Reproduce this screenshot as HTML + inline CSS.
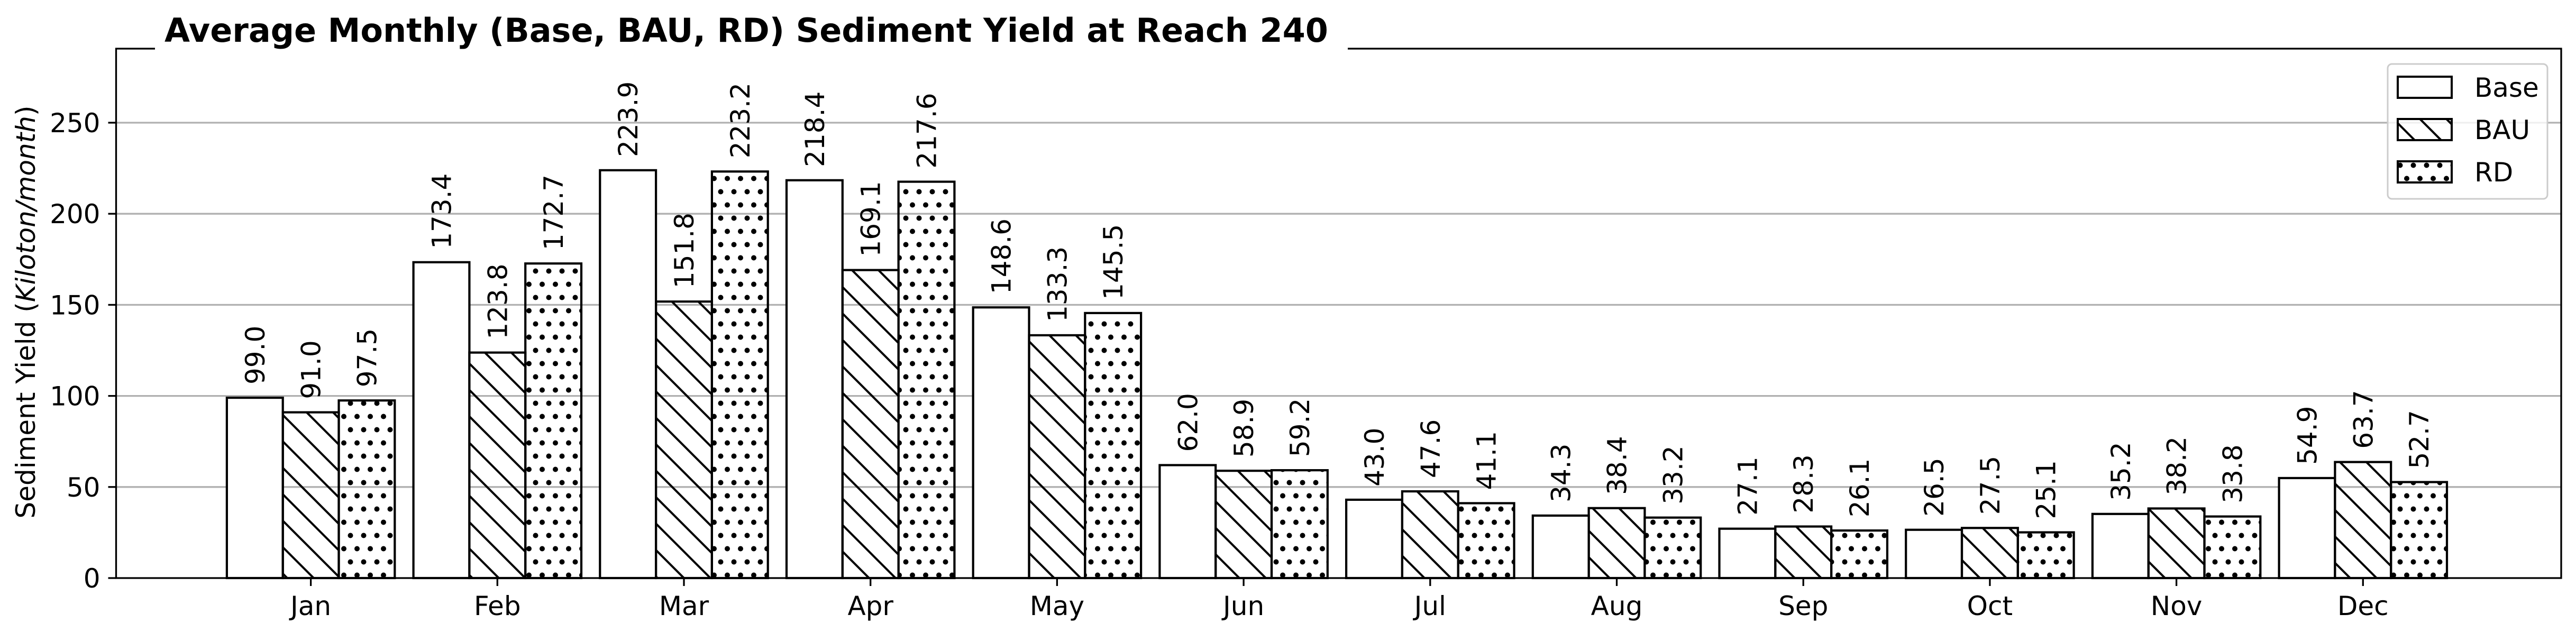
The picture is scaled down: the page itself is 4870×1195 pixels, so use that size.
<!DOCTYPE html>
<html><head><meta charset="utf-8"><style>
html,body{margin:0;padding:0;background:#fff;}
svg{display:block;font-family:"DejaVu Sans","Liberation Sans",sans-serif;}
</style></head><body>
<svg id="chart" width="4870" height="1195" viewBox="0 0 4870 1195" xmlns="http://www.w3.org/2000/svg">
<defs>
<pattern id="hatchBAU" patternUnits="userSpaceOnUse" width="50" height="50">
<path d="M-10,-10 L60,60 M-10,40 L10,60 M40,-10 L60,10" stroke="#000" stroke-width="4" fill="none"/>
</pattern>
<pattern id="hatchRD" patternUnits="userSpaceOnUse" width="25" height="50">
<circle cx="12.5" cy="12.5" r="5" fill="#000"/>
<circle cx="0" cy="37.5" r="5" fill="#000"/>
<circle cx="25" cy="37.5" r="5" fill="#000"/>
</pattern>
</defs>
<g id="grid"></g>
<g id="bars"></g>
<g id="labels"></g>
<g id="axes"></g>
<rect x="293" y="20" width="2255" height="90" fill="#fff"/>
<text x="311" y="79" font-size="62" font-weight="bold">Average Monthly (Base, BAU, RD) Sediment Yield at Reach 240</text>
<text transform="translate(66,590) rotate(-90)" text-anchor="middle" font-size="50">Sediment Yield (<tspan font-style="italic">Kiloton/month</tspan>)</text>
<g>
<rect x="4514" y="121" width="302" height="255" rx="8" fill="#fff" fill-opacity="0.8" stroke="#ccc" stroke-width="3"/>
<rect x="4533" y="145" width="102" height="40" fill="#fff" stroke="#000" stroke-width="4"/>
<rect x="4533" y="225" width="102" height="40" fill="url(#hatchBAU)" stroke="#000" stroke-width="4"/>
<rect x="4533" y="305" width="102" height="40" fill="url(#hatchRD)" stroke="#000" stroke-width="4"/>
<text x="4678" y="183" font-size="50">Base</text>
<text x="4678" y="263" font-size="50">BAU</text>
<text x="4678" y="343" font-size="50">RD</text>
</g>
</svg>
<script>
const months = ["Jan","Feb","Mar","Apr","May","Jun","Jul","Aug","Sep","Oct","Nov","Dec"];
const baseValues = [99.0,173.4,223.9,218.4,148.6,62.0,43.0,34.3,27.1,26.5,35.2,54.9];
const bauValues = [91.0,123.8,151.8,169.1,133.3,58.9,47.6,38.4,28.3,27.5,38.2,63.7];
const rdValues = [97.5,172.7,223.2,217.6,145.5,59.2,41.1,33.2,26.1,25.1,33.8,52.7];
const yTicks = [0,50,100,150,200,250];

const NS="http://www.w3.org/2000/svg";
const L=219.5,R=4842,T=92,B=1093;
const x0=587.6, step=352.7, barW=0.3*step;
const yPerUnit=(B-232)/250;
function xPos(i){return x0+step*i;}
function yPos(v){return B-v*yPerUnit;}
function mk(tag,attrs,parent){const e=document.createElementNS(NS,tag);for(const k in attrs)e.setAttribute(k,attrs[k]);parent.appendChild(e);return e;}

const grid=document.getElementById('grid');
const axes=document.getElementById('axes');
yTicks.forEach(t=>{
  const y=yPos(t);
  if(t>0){const g=mk('line',{x1:L,x2:R,y1:y,y2:y,stroke:'#b0b0b0','stroke-width':3.3},grid);
  
  }
  const tk=mk('line',{x1:L-15,x2:L,y1:y,y2:y,stroke:'#000','stroke-width':3.3},axes);
  
  
  const tx=mk('text',{x:L-30,y:y+18,'text-anchor':'end','font-size':50},axes);
  tx.textContent=t;
  
  
});

const series=[{name:'base',vals:baseValues,fill:'#fff'},{name:'bau',vals:bauValues,fill:'url(#hatchBAU)'},{name:'rd',vals:rdValues,fill:'url(#hatchRD)'}];
const bars=document.getElementById('bars');
const labels=document.getElementById('labels');
months.forEach((m,i)=>{
  series.forEach((s,j)=>{
    const cx=xPos(i)+(j-1)*barW;
    const v=s.vals[i];
    const r=mk('rect',{x:cx-barW/2,y:yPos(v),width:barW,height:B-yPos(v),fill:s.fill,stroke:'#000','stroke-width':4.2},bars);
    
    
    const t=mk('text',{transform:'translate('+(cx+18)+','+(yPos(v)-25)+') rotate(-90)','font-size':50},labels);
    t.textContent=v.toFixed(1);
    
    
  });
  const x=xPos(i);
  const tk=mk('line',{x1:x,x2:x,y1:B,y2:B+15,stroke:'#000','stroke-width':3.3},axes);
  
  
  const tx=mk('text',{x:x,y:B+70,'text-anchor':'middle','font-size':50},axes);
  tx.textContent=m;
  
  
});
const frame=mk('rect',{x:L,y:T,width:R-L,height:B-T,fill:'none',stroke:'#000','stroke-width':3.3},axes);


</script>
</body></html>
